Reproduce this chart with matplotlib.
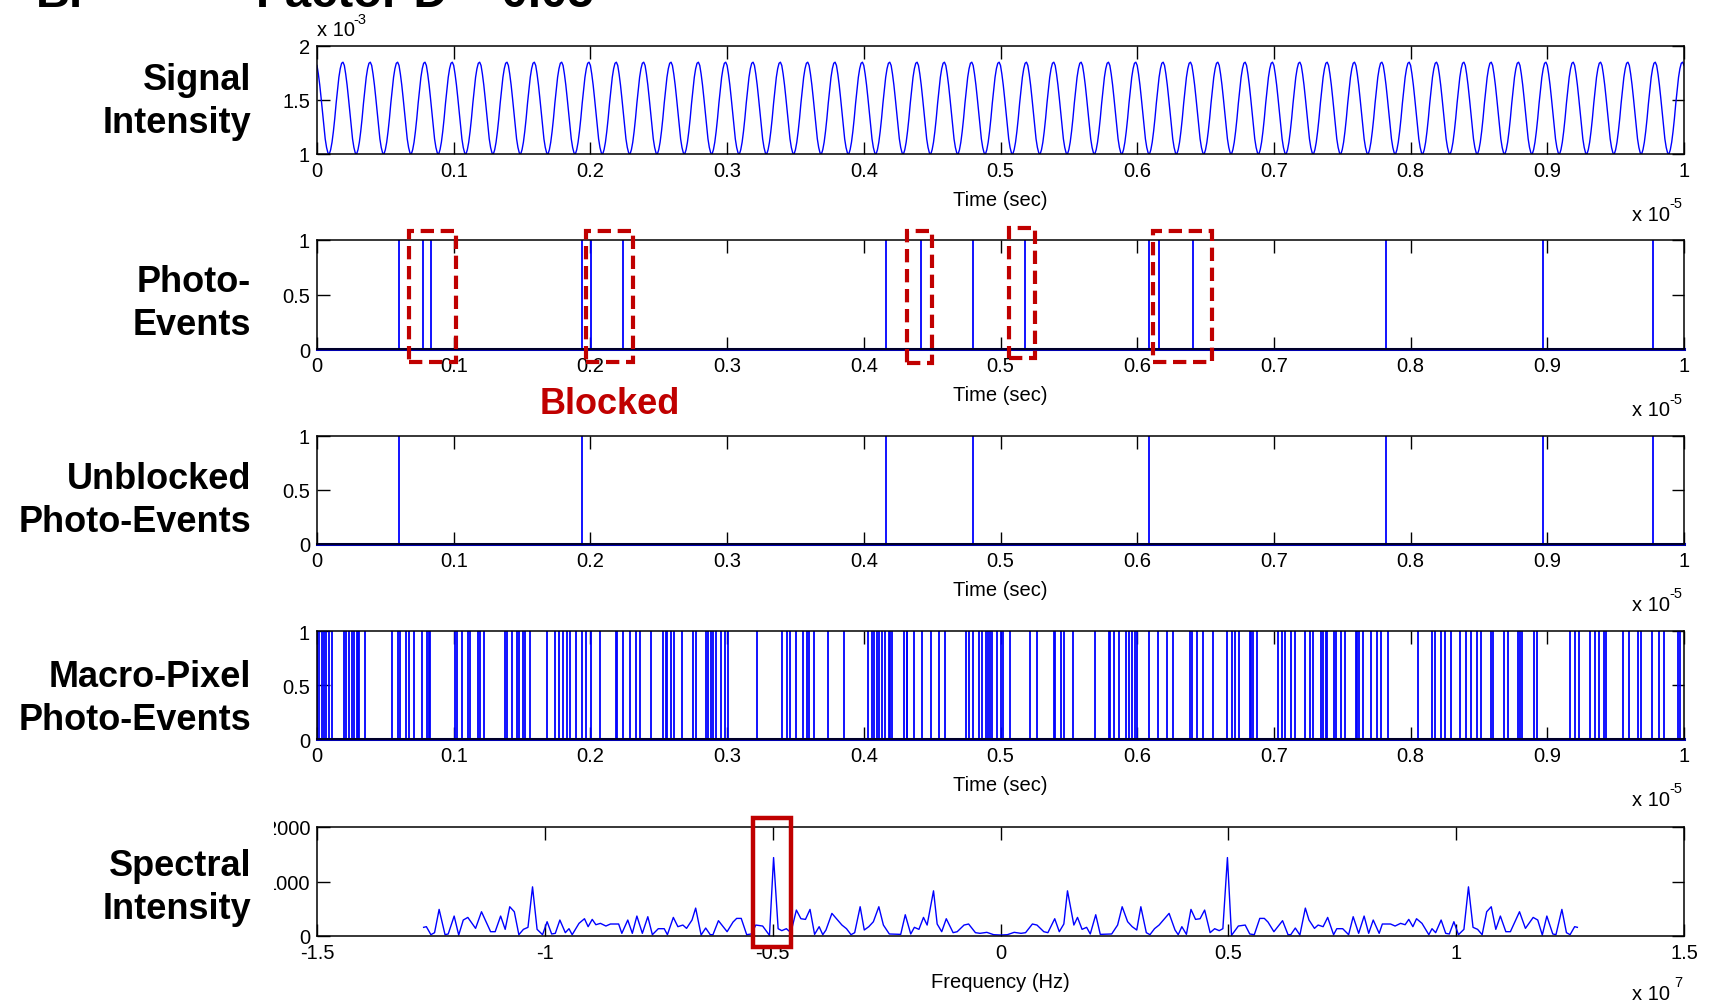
import numpy as np
import matplotlib
matplotlib.use('Agg')
import matplotlib.pyplot as plt
from matplotlib.patches import Rectangle
from matplotlib.transforms import offset_copy

plt.rcParams['font.family'] = ['Liberation Sans', 'DejaVu Sans']

# signal intensity (x 1e-3), one period, 50 periods over 1e-5 s
signal_period = [1.82, 1.74, 1.64, 1.52, 1.39, 1.26, 1.14, 1.06, 1.01, 1.00,
                 1.04, 1.11, 1.21, 1.33, 1.47, 1.59, 1.71, 1.79, 1.84, 1.85]
n_periods = 50

# photo-event times (x 1e-5 s)
photo_events = [0.0598, 0.0772, 0.0831, 0.194, 0.2005, 0.224, 0.4163, 0.4418,
                0.480, 0.518, 0.6083, 0.6157, 0.6406, 0.782, 0.897, 0.9776]
unblocked_events = [0.0598, 0.194, 0.4163, 0.480, 0.6083, 0.782, 0.897, 0.9776]

# blocked groups marked with dashed boxes (x0, x1, y0, y1)
blocked_boxes = [(0.0674, 0.1014, -0.12, 1.08),
                 (0.197, 0.2315, -0.12, 1.08),
                 (0.4317, 0.4496, -0.13, 1.08),
                 (0.5064, 0.525, -0.08, 1.11),
                 (0.6113, 0.6546, -0.12, 1.08)]

macro_events = [
    0.0003, 0.0016, 0.0033, 0.0049, 0.0069, 0.0091, 0.0108, 0.0196, 0.0209, 0.0232,
    0.0255, 0.0271, 0.0291, 0.0297, 0.0310, 0.0353, 0.0548, 0.0591, 0.0604, 0.0653,
    0.0673, 0.0712, 0.0770, 0.0803, 0.0819, 0.0826, 0.1006, 0.1022, 0.1061, 0.1104,
    0.1120, 0.1179, 0.1192, 0.1218, 0.1374, 0.1388, 0.1430, 0.1463, 0.1479, 0.1505,
    0.1518, 0.1561, 0.1685, 0.1740, 0.1773, 0.1799, 0.1832, 0.1854, 0.1897, 0.1936,
    0.1969, 0.2001, 0.2067, 0.2184, 0.2197, 0.2236, 0.2289, 0.2334, 0.2360, 0.2442,
    0.2530, 0.2550, 0.2563, 0.2589, 0.2612, 0.2671, 0.2752, 0.2769, 0.2844, 0.2857,
    0.2883, 0.2899, 0.2922, 0.2955, 0.2981, 0.3007, 0.3216, 0.3399, 0.3438, 0.3461,
    0.3503, 0.3552, 0.3585, 0.3601, 0.3634, 0.3741, 0.3856, 0.4032, 0.4058, 0.4074,
    0.4097, 0.4114, 0.4130, 0.4156, 0.4182, 0.4195, 0.4208, 0.4293, 0.4313, 0.4319,
    0.4368, 0.4424, 0.4489, 0.4548, 0.4597, 0.4750, 0.4767, 0.4802, 0.4842, 0.4865,
    0.4891, 0.4907, 0.4923, 0.4940, 0.4972, 0.5007, 0.5020, 0.5070, 0.5219, 0.5269,
    0.5389, 0.5402, 0.5439, 0.5462, 0.5528, 0.5688, 0.5794, 0.5804, 0.5827, 0.5867,
    0.5920, 0.5937, 0.5960, 0.5983, 0.6000, 0.6086, 0.6153, 0.6219, 0.6259, 0.6385,
    0.6399, 0.6435, 0.6482, 0.6551, 0.6658, 0.6691, 0.6718, 0.6748, 0.6824, 0.6834,
    0.6847, 0.6880, 0.7030, 0.7056, 0.7080, 0.7123, 0.7156, 0.7229, 0.7262, 0.7289,
    0.7346, 0.7359, 0.7382, 0.7389, 0.7439, 0.7455, 0.7488, 0.7522, 0.7598, 0.7605,
    0.7621, 0.7654, 0.7711, 0.7754, 0.7787, 0.7837, 0.8056, 0.8153, 0.8179, 0.8219,
    0.8252, 0.8296, 0.8359, 0.8402, 0.8445, 0.8485, 0.8518, 0.8585, 0.8601, 0.8684,
    0.8711, 0.8784, 0.8801, 0.8817, 0.8904, 0.8927, 0.9166, 0.9206, 0.9233, 0.9316,
    0.9349, 0.9375, 0.9415, 0.9432, 0.9555, 0.9598, 0.9664, 0.9688, 0.9764, 0.9814,
    0.9854, 0.9957, 0.9970]

# spectrum, positive half (freq x 1e7 Hz), mirrored for negative frequencies
spec_freq = [0.000, 0.015, 0.030, 0.045, 0.055, 0.070, 0.080, 0.095, 0.104, 0.119,
             0.129, 0.139, 0.147, 0.161, 0.169, 0.179, 0.189, 0.197, 0.209, 0.219,
             0.244, 0.257, 0.267, 0.279, 0.289, 0.299, 0.308, 0.320, 0.328, 0.338,
             0.348, 0.370, 0.383, 0.390, 0.398, 0.408, 0.418, 0.428, 0.438, 0.448,
             0.460, 0.470, 0.480, 0.488, 0.498, 0.507, 0.522, 0.537, 0.547, 0.557,
             0.569, 0.579, 0.587, 0.600, 0.619, 0.631, 0.637, 0.647, 0.657, 0.669,
             0.677, 0.689, 0.697, 0.708, 0.718, 0.731, 0.738, 0.751, 0.764, 0.774,
             0.786, 0.798, 0.808, 0.818, 0.831, 0.838, 0.856, 0.866, 0.878, 0.888,
             0.896, 0.905, 0.913, 0.925, 0.940, 0.947, 0.955, 0.967, 0.977, 0.985,
             0.995, 1.005, 1.017, 1.027, 1.037, 1.047, 1.057, 1.067, 1.077, 1.087,
             1.097, 1.109, 1.119, 1.139, 1.152, 1.169, 1.179, 1.189, 1.199, 1.212,
             1.219, 1.232, 1.242, 1.250, 1.260, 1.266]
spec_vals = [18, 24, 67, 49, 61, 220, 201, 79, 61, 317,
             79, 220, 829, 201, 341, 122, 159, 37, 390, 30,
             37, 201, 537, 262, 171, 110, 537, 61, 24, 134,
             201, 415, 110, 24, 171, 30, 488, 305, 317, 476,
             61, 134, 98, 134, 1439, 12, 183, 201, 37, 24,
             323, 323, 256, 79, 281, 24, 24, 146, 18, 512,
             293, 140, 201, 171, 341, 24, 134, 134, 24, 354,
             49, 366, 49, 293, 49, 220, 220, 183, 232, 207,
             305, 171, 317, 232, 24, 134, 61, 293, 49, 37,
             262, 24, 122, 902, 159, 122, 24, 445, 537, 122,
             366, 79, 79, 445, 140, 341, 293, 18, 366, 37,
             24, 488, 61, 24, 171, 159]

row_labels = ['Signal\nIntensity', 'Photo-\nEvents', 'Unblocked\nPhoto-Events',
              'Macro-Pixel\nPhoto-Events', 'Spectral\nIntensity']
time_ticks = [0, 0.1, 0.2, 0.3, 0.4, 0.5, 0.6, 0.7, 0.8, 0.9, 1]
time_ticklabels = ['0', '0.1', '0.2', '0.3', '0.4', '0.5', '0.6', '0.7', '0.8', '0.9', '1']
freq_ticks = [-1.5, -1, -0.5, 0, 0.5, 1, 1.5]
freq_ticklabels = ['-1.5', '-1', '-0.5', '0', '0.5', '1', '1.5']

RED = '#C00000'
BLUE = '#0000FF'
TICK_FS = 14.5


def style_axes(ax):
    ax.tick_params(direction='in', top=True, right=True, length=9, width=1,
                   labelsize=TICK_FS, pad=5)
    for s in ax.spines.values():
        s.set_linewidth(1.1)


def exponent_label(fig, ax, x, y, exp, ha):
    # "x 10" followed by a raised exponent, MATLAB style
    if ha == 'right':
        ax.text(x, y, 'x 10', transform=offset_copy(ax.transAxes, fig, x=-10, y=0, units='points'),
                ha='right', va='baseline', fontsize=TICK_FS)
        ax.text(x, y, exp, transform=offset_copy(ax.transAxes, fig, x=-1, y=9, units='points'),
                ha='right', va='baseline', fontsize=10.5)
    else:
        ax.text(x, y, 'x 10', transform=ax.transAxes, ha='left',
                va='baseline', fontsize=TICK_FS)
        ax.text(x, y, exp, transform=offset_copy(ax.transAxes, fig, x=26, y=9, units='points'),
                ha='left', va='baseline', fontsize=10.5)


def main():
    fig = plt.figure(figsize=(17.12, 10.04), dpi=100)
    H = 1004.0
    left = 317 / 1712.0
    width = 1367 / 1712.0
    panels = [(47, 155), (241, 350), (437, 545), (632, 740), (828, 937)]
    axes = []
    for top, bot in panels:
        ax = fig.add_axes([left, 1 - bot / H, width, (bot - top) / H])
        style_axes(ax)
        axes.append(ax)

    # panel 1: signal intensity
    ax1 = axes[0]
    sig = np.concatenate([np.tile(signal_period, n_periods), [signal_period[0]]])
    t = np.linspace(0, 1, len(sig))
    ax1.plot(t, sig, color=BLUE, lw=1.0)
    ax1.set_ylim(1, 2)
    ax1.set_yticks([1, 1.5, 2])
    ax1.set_yticklabels(['1', '1.5', '2'])
    exponent_label(fig, ax1, 0.0, 1.10, '-3', 'left')

    # panels 2-4: event trains
    for ax, ev in zip(axes[1:4], [photo_events, unblocked_events, macro_events]):
        ax.vlines(ev, 0, 1, color=BLUE, lw=1.3)
        ax.plot([0, 1], [0, 0], color='#0000B0', lw=2.2, clip_on=False)
        ax.set_ylim(0, 1)
        ax.set_yticks([0, 0.5, 1])
        ax.set_yticklabels(['0', '0.5', '1'])

    for b in blocked_boxes:
        axes[1].add_patch(Rectangle((b[0], b[2]), b[1] - b[0], b[3] - b[2],
                                    fill=False, edgecolor=RED, lw=3.0,
                                    linestyle=(0, (3.2, 1.6)), clip_on=False, zorder=5))
    axes[1].text(0.214, -0.5, 'Blocked', transform=axes[1].transAxes, color=RED,
                 fontsize=26, fontweight='bold', ha='center', va='center')

    for ax in axes[:4]:
        ax.set_xlim(0, 1)
        ax.set_xticks(time_ticks)
        ax.set_xticklabels(time_ticklabels)
        ax.text(0.5, -0.42, 'Time (sec)', transform=ax.transAxes, ha='center',
                va='center', fontsize=TICK_FS)
        exponent_label(fig, ax, 1.0, -0.61, '-5', 'right')

    # panel 5: spectrum
    ax5 = axes[4]
    f_pos = np.array(spec_freq)
    v_pos = np.array(spec_vals)
    freqs = np.concatenate([-f_pos[::-1], f_pos[1:]])
    vals = np.concatenate([v_pos[::-1], v_pos[1:]])
    ax5.plot(freqs, vals, color=BLUE, lw=1.0)
    ax5.set_xlim(-1.5, 1.5)
    ax5.set_ylim(0, 2000)
    ax5.set_xticks(freq_ticks)
    ax5.set_xticklabels(freq_ticklabels)
    ax5.set_yticks([0, 1000, 2000])
    ax5.set_yticklabels(['0', '1000', '2000'])
    ax5.add_patch(Rectangle((-0.543, -195), 0.083, 2365, fill=False,
                            edgecolor=RED, lw=3.2, clip_on=False, zorder=5))
    ax5.text(0.5, -0.42, 'Frequency (Hz)', transform=ax5.transAxes, ha='center',
             va='center', fontsize=TICK_FS)
    exponent_label(fig, ax5, 1.0, -0.575, '7', 'right')

    # white cover that hides the leading digits of the spectral tick labels
    fig.add_artist(Rectangle((0, 0), 274 / 1712.0, 1 - 790 / H,
                             transform=fig.transFigure, facecolor='white',
                             edgecolor='none', zorder=10))

    # row labels
    label_y = [102, 304, 501, 699, 888]
    for lab, y in zip(row_labels, label_y):
        fig.text(251 / 1712.0, 1 - y / H, lab, ha='right', va='center',
                 fontsize=26, fontweight='bold', linespacing=1.3, zorder=11)

    # cropped title at the very top
    fig.text(36 / 1712.0, 1 - 7 / H, 'B.', ha='left', va='baseline',
             fontsize=34, fontweight='bold')
    fig.text(594 / 1712.0, 1 - 7 / H, 'Factor D = 0.05', ha='right',
             va='baseline', fontsize=34, fontweight='bold')

    fig.savefig('out.png', dpi=100)


main()
